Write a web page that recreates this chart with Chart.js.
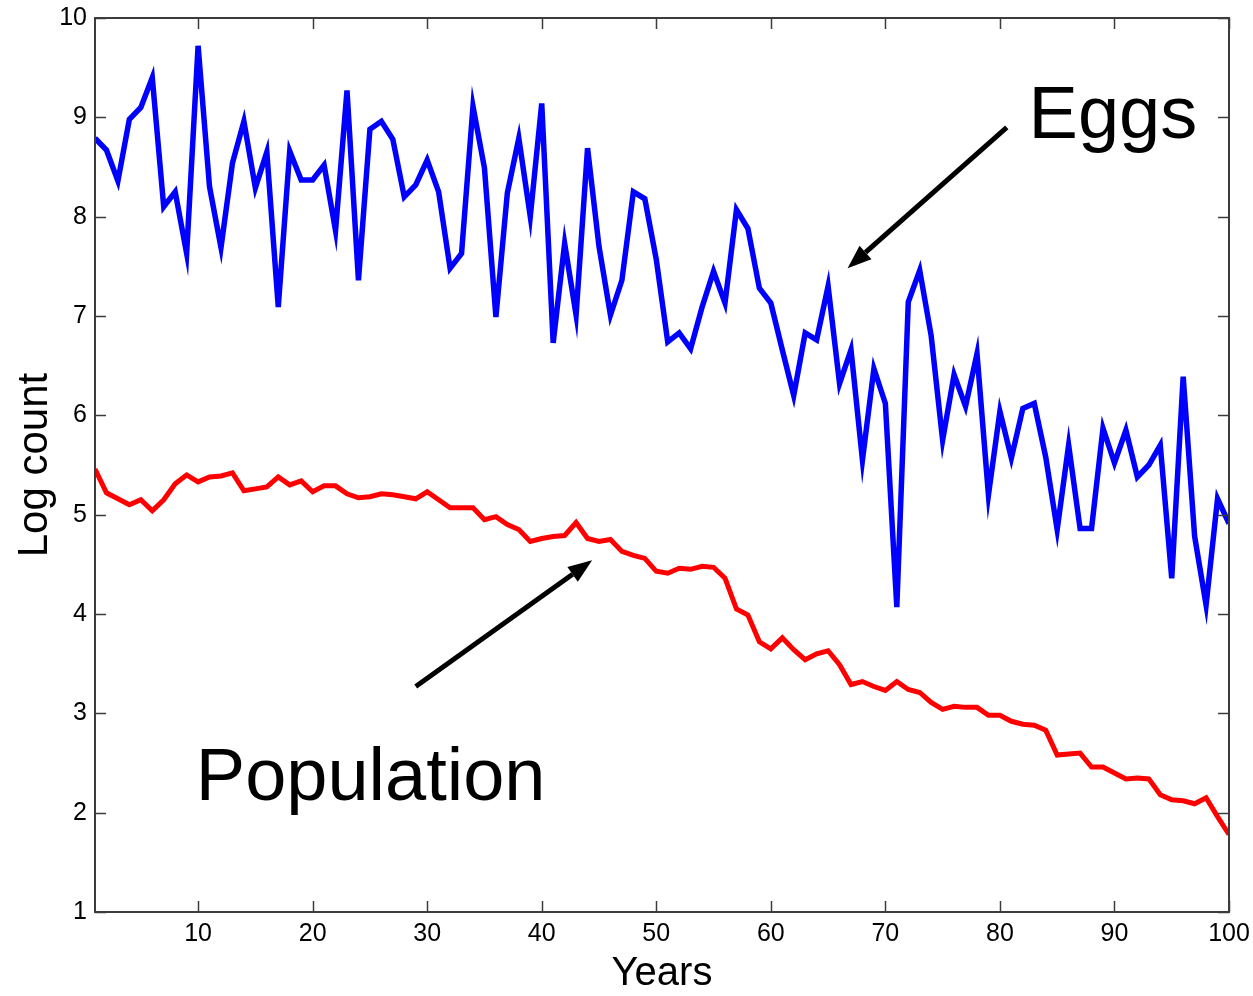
<!DOCTYPE html>
<html>
<head>
<meta charset="utf-8">
<title>Eggs and population</title>
<script src="https://cdn.jsdelivr.net/npm/chart.js@4.4.0/dist/chart.umd.min.js"></script>
<style>
  body { margin: 0; background: #fff; }
  #wrap { width: 1253px; height: 996px; }
</style>
</head>
<body>
<div id="wrap"><canvas id="chart" width="1253" height="996"></canvas></div>
<script>
// data
const years = [1, 2, 3, 4, 5, 6, 7, 8, 9, 10, 11, 12, 13, 14, 15, 16, 17, 18, 19, 20,
  21, 22, 23, 24, 25, 26, 27, 28, 29, 30, 31, 32, 33, 34, 35, 36, 37, 38, 39, 40,
  41, 42, 43, 44, 45, 46, 47, 48, 49, 50, 51, 52, 53, 54, 55, 56, 57, 58, 59, 60,
  61, 62, 63, 64, 65, 66, 67, 68, 69, 70, 71, 72, 73, 74, 75, 76, 77, 78, 79, 80,
  81, 82, 83, 84, 85, 86, 87, 88, 89, 90, 91, 92, 93, 94, 95, 96, 97, 98, 99, 100];

const eggs = [8.79, 8.67, 8.36, 8.98, 9.10, 9.40, 8.10, 8.25, 7.63, 9.72,
  8.30, 7.69, 8.54, 8.96, 8.29, 8.65, 7.09, 8.66, 8.37, 8.37,
  8.52, 7.86, 9.27, 7.36, 8.88, 8.96, 8.78, 8.20, 8.32, 8.57,
  8.25, 7.48, 7.63, 9.11, 8.49, 6.99, 8.24, 8.79, 8.00, 9.14,
  6.73, 7.73, 7.01, 8.69, 7.70, 7.01, 7.36, 8.25, 8.18, 7.57,
  6.74, 6.83, 6.67, 7.09, 7.45, 7.13, 8.07, 7.88, 7.28, 7.13,
  6.66, 6.20, 6.83, 6.76, 7.30, 6.32, 6.66, 5.55, 6.47, 6.12,
  4.07, 7.14, 7.46, 6.80, 5.75, 6.41, 6.09, 6.62, 5.20, 6.04,
  5.57, 6.07, 6.12, 5.58, 4.85, 5.70, 4.86, 4.86, 5.87, 5.52,
  5.85, 5.38, 5.50, 5.70, 4.36, 6.39, 4.78, 4.09, 5.16, 4.91];

const population = [5.46, 5.22, 5.16, 5.10, 5.15, 5.04, 5.15, 5.31, 5.40, 5.33,
  5.38, 5.39, 5.42, 5.24, 5.26, 5.28, 5.38, 5.30, 5.34, 5.23,
  5.29, 5.29, 5.21, 5.17, 5.18, 5.21, 5.20, 5.18, 5.16, 5.23,
  5.15, 5.07, 5.07, 5.07, 4.95, 4.98, 4.90, 4.85, 4.73, 4.76,
  4.78, 4.79, 4.92, 4.76, 4.73, 4.75, 4.63, 4.59, 4.56, 4.43,
  4.41, 4.46, 4.45, 4.48, 4.47, 4.36, 4.05, 3.99, 3.72, 3.65,
  3.76, 3.64, 3.54, 3.60, 3.63, 3.49, 3.29, 3.32, 3.27, 3.23,
  3.32, 3.24, 3.21, 3.11, 3.04, 3.07, 3.06, 3.06, 2.98, 2.98,
  2.92, 2.89, 2.88, 2.83, 2.58, 2.59, 2.60, 2.46, 2.46, 2.40,
  2.34, 2.35, 2.34, 2.18, 2.13, 2.12, 2.09, 2.15, 1.96, 1.78];

const xTicks = [10, 20, 30, 40, 50, 60, 70, 80, 90, 100];
const yTicks = [1, 2, 3, 4, 5, 6, 7, 8, 9, 10];

const fontFamily = "Arial, 'Liberation Sans', sans-serif";

// arrows and labels, placed in data units
const labels = [
  { text: "Eggs", x: 82.5, y: 8.79, size: 74, arrowFrom: [80.6, 8.90], arrowTo: [66.7, 7.48] },
  { text: "Population", x: 9.8, y: 2.13, size: 74, arrowFrom: [29.0, 3.27], arrowTo: [44.4, 4.54] }
];

function drawArrow(ctx, x1, y1, x2, y2) {
  const ang = Math.atan2(y2 - y1, x2 - x1);
  const headLen = 24, headW = 9;
  const bx = x2 - headLen * Math.cos(ang);
  const by = y2 - headLen * Math.sin(ang);
  ctx.beginPath();
  ctx.moveTo(x1, y1);
  ctx.lineTo(bx, by);
  ctx.stroke();
  ctx.beginPath();
  ctx.moveTo(x2, y2);
  ctx.lineTo(bx + headW * Math.sin(ang), by - headW * Math.cos(ang));
  ctx.lineTo(bx - headW * Math.sin(ang), by + headW * Math.cos(ang));
  ctx.closePath();
  ctx.fill();
}

// box, inside ticks and the annotations
const framePlugin = {
  id: "frame",
  afterDraw(chart) {
    const ctx = chart.ctx;
    const area = chart.chartArea;
    const xs = chart.scales.x, ys = chart.scales.y;
    const tickLen = 11;
    ctx.save();
    ctx.strokeStyle = "#3c3c3c";
    ctx.lineWidth = 1.5;
    xTicks.forEach(v => {
      const px = Math.round(xs.getPixelForValue(v)) + 0.5;
      ctx.beginPath();
      ctx.moveTo(px, area.bottom); ctx.lineTo(px, area.bottom - tickLen);
      ctx.moveTo(px, area.top); ctx.lineTo(px, area.top + tickLen);
      ctx.stroke();
    });
    yTicks.forEach(v => {
      const py = Math.round(ys.getPixelForValue(v)) + 0.5;
      ctx.beginPath();
      ctx.moveTo(area.left, py); ctx.lineTo(area.left + tickLen, py);
      ctx.moveTo(area.right, py); ctx.lineTo(area.right - tickLen, py);
      ctx.stroke();
    });
    ctx.lineWidth = 2;
    ctx.strokeRect(area.left, area.top, area.right - area.left, area.bottom - area.top);

    ctx.fillStyle = "#000";
    ctx.strokeStyle = "#000";
    ctx.lineWidth = 5;
    labels.forEach(l => {
      drawArrow(ctx,
        xs.getPixelForValue(l.arrowFrom[0]), ys.getPixelForValue(l.arrowFrom[1]),
        xs.getPixelForValue(l.arrowTo[0]), ys.getPixelForValue(l.arrowTo[1]));
      ctx.font = l.size + "px " + fontFamily;
      ctx.textAlign = "left";
      ctx.textBaseline = "alphabetic";
      ctx.fillText(l.text, xs.getPixelForValue(l.x), ys.getPixelForValue(l.y));
    });
    ctx.restore();
  }
};

const ctx = document.getElementById("chart").getContext("2d");
new Chart(ctx, {
  type: "line",
  data: {
    datasets: [
      {
        label: "Eggs",
        data: years.map((yr, i) => ({ x: yr, y: eggs[i] })),
        borderColor: "#0000ff",
        borderWidth: 5.5,
        pointRadius: 0,
        tension: 0,
        fill: false
      },
      {
        label: "Population",
        data: years.map((yr, i) => ({ x: yr, y: population[i] })),
        borderColor: "#ff0000",
        borderWidth: 5,
        pointRadius: 0,
        tension: 0,
        fill: false
      }
    ]
  },
  options: {
    responsive: false,
    animation: false,
    layout: { padding: { top: 18, right: 24, left: 0, bottom: 0 } },
    plugins: {
      legend: { display: false },
      tooltip: { enabled: false }
    },
    scales: {
      x: {
        type: "linear",
        min: 1,
        max: 100,
        afterBuildTicks: s => { s.ticks = xTicks.map(v => ({ value: v })); },
        afterFit: s => { s.height = 84; s.paddingLeft = 0; s.paddingRight = 0; },
        grid: { display: false, drawTicks: false },
        border: { display: false },
        ticks: {
          padding: 7,
          color: "#000",
          maxRotation: 0,
          autoSkip: false,
          font: { family: fontFamily, size: 25 }
        },
        title: {
          display: true,
          text: "Years",
          color: "#000",
          font: { family: fontFamily, size: 40, lineHeight: 1.1 },
          padding: { top: 0, bottom: 0 }
        }
      },
      y: {
        type: "linear",
        min: 1,
        max: 10,
        afterBuildTicks: s => { s.ticks = yTicks.map(v => ({ value: v })); },
        afterFit: s => { s.width = 95; s.paddingTop = 0; s.paddingBottom = 0; },
        grid: { display: false, drawTicks: false },
        border: { display: false },
        ticks: {
          padding: 8,
          color: "#000",
          autoSkip: false,
          font: { family: fontFamily, size: 25 }
        },
        title: {
          display: true,
          text: "Log count",
          color: "#000",
          font: { family: fontFamily, size: 42, lineHeight: 1.2 },
          padding: { top: 10, bottom: 0 }
        }
      }
    }
  },
  plugins: [framePlugin]
});
</script>
</body>
</html>
